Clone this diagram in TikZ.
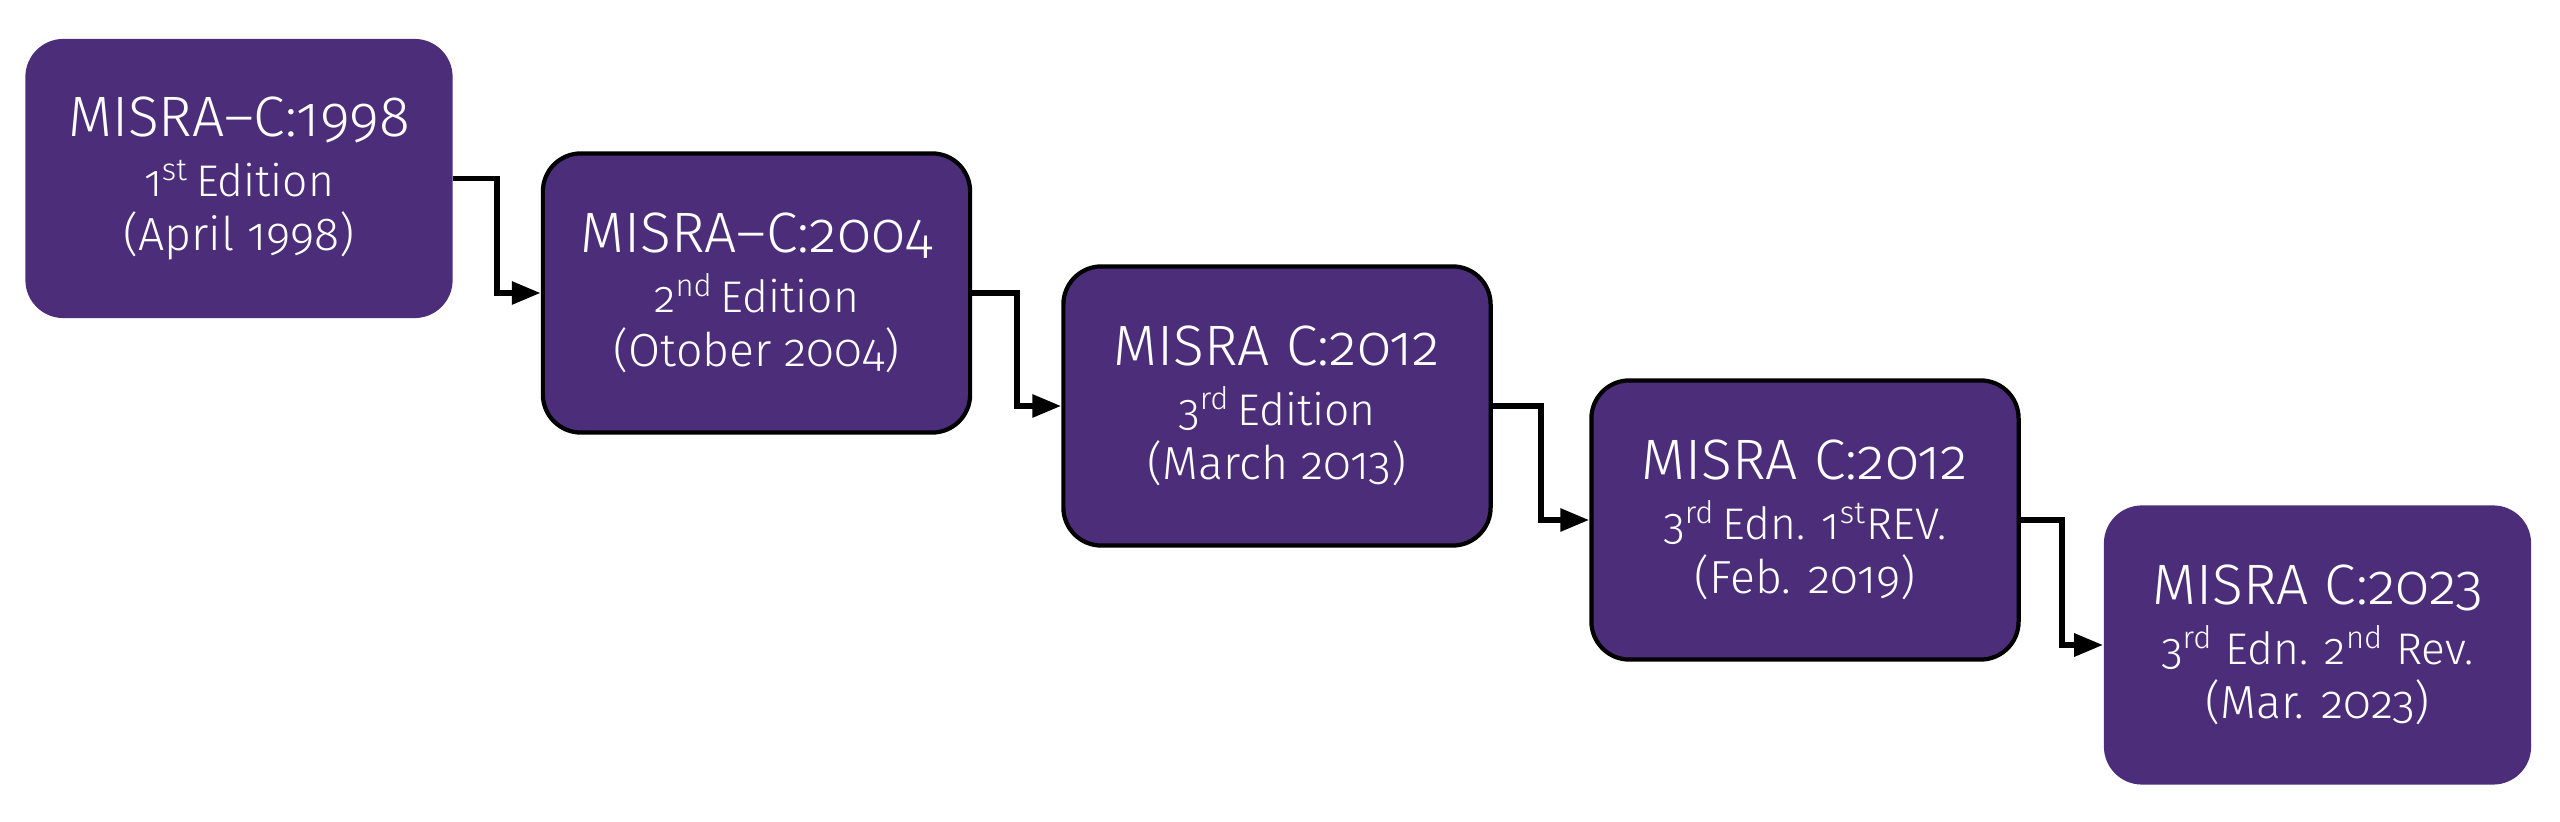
\documentclass[tikz,border=0pt]{standalone}
\usepackage{fontspec}
\setmainfont{Fira Sans Light}[Numbers=OldStyle]
\usetikzlibrary{arrows.meta,calc}

\definecolor{misrapurple}{RGB}{76,45,122}

\tikzset{
  edition/.style={rectangle, rounded corners=0.38cm, fill=misrapurple, text=white,
    align=center, minimum width=4.27cm, minimum height=2.79cm, inner sep=0pt,
    font=\fontsize{13.2}{15.6}\selectfont},
  framed/.style={draw=black, line width=1.2pt},
  flow/.style={draw=black, line width=1.7pt, -{Triangle[length=0.29cm,width=0.22cm]}}
}
\newcommand{\edtitle}[1]{{\fontsize{16.2}{15.6}\selectfont #1}}
\newcommand{\edline}[1]{{\fontsize{12.6}{15.6}\selectfont #1}}

\begin{document}
\begin{tikzpicture}[x=0.01cm, y=-0.01cm]
        \useasboundingbox (0,0) rectangle (2560,822);

        % Editions - purple rounded boxes, stepping down to the right
        \node[edition] (c98) at (239,178.5) {\edtitle{MISRA–C:1998}\\[1.4pt]\edline{1\textsuperscript{st}\,Edition}\\(April 1998)};
        \node[edition, framed] (c04) at (756.5,293) {\edtitle{MISRA–C:2004}\\[1.4pt]\edline{2\textsuperscript{nd}\,Edition}\\(Otober 2004)};
        \node[edition, framed] (c12) at (1277,406) {\edtitle{MISRA C:2012}\\[1.4pt]\edline{3\textsuperscript{rd}\,Edition}\\(March 2013)};
        \node[edition, framed] (c12r) at (1805,520) {\edtitle{MISRA C:2012}\\[1.4pt]\edline{3\textsuperscript{rd}\,Edn. 1\textsuperscript{st}REV.}\\(Feb. 2019)};
        \node[edition] (c23) at (2317.5,645) {\edtitle{MISRA C:2023}\\[1.4pt]\edline{3\textsuperscript{rd} Edn. 2\textsuperscript{nd} Rev.}\\(Mar. 2023)};

        % Elbow connectors between editions
        \draw[flow] (c98.east) -| ($(c98.east)!0.5!(c04.west)$) |- (c04.west);
        \draw[flow] (c04.east) -| ($(c04.east)!0.5!(c12.west)$) |- (c12.west);
        \draw[flow] (c12.east) -| ($(c12.east)!0.5!(c12r.west)$) |- (c12r.west);
        \draw[flow] (c12r.east) -| ($(c12r.east)!0.5!(c23.west)$) |- (c23.west);
\end{tikzpicture}
\end{document}
